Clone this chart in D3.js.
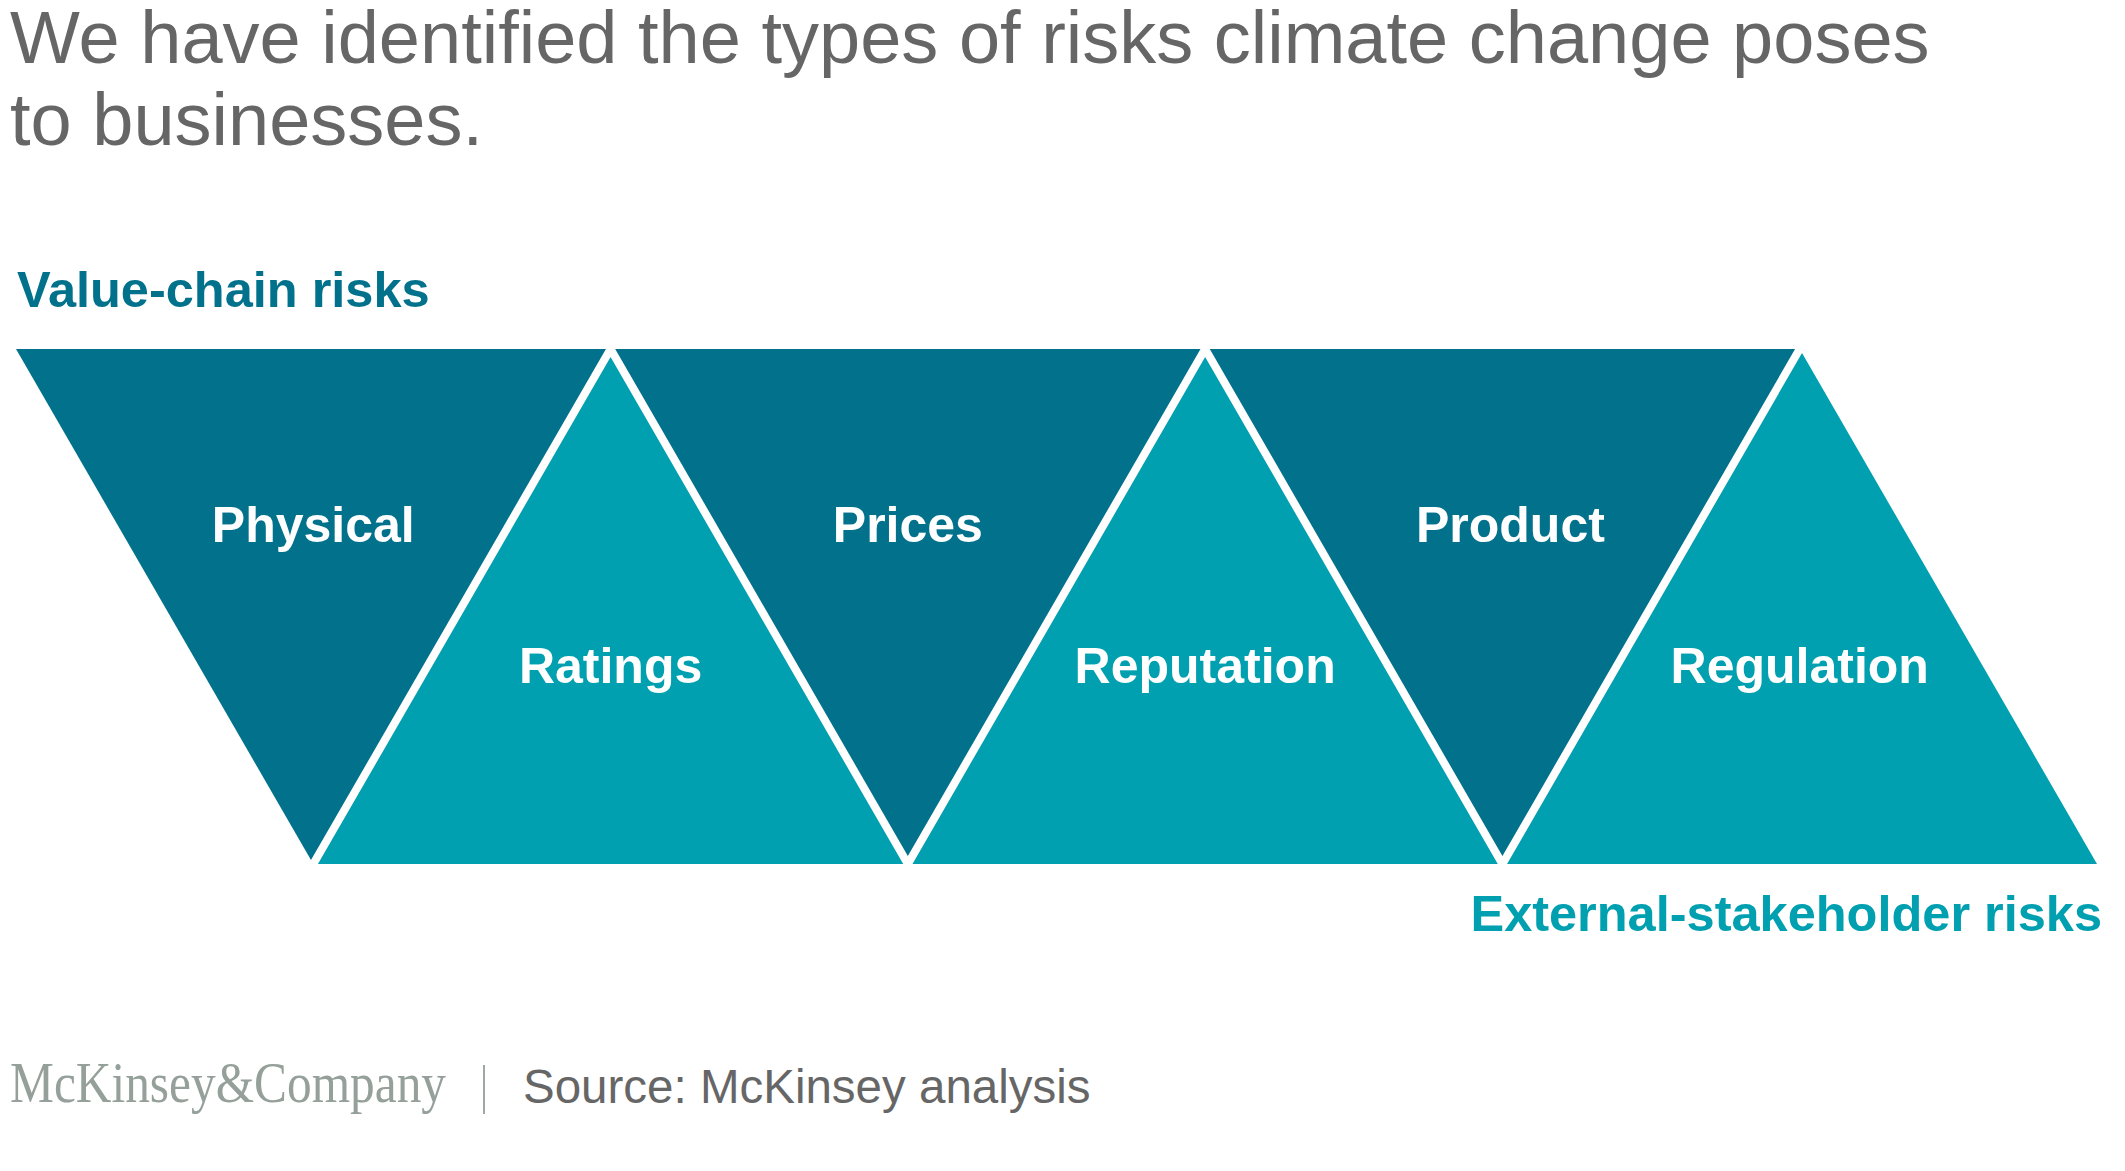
<!DOCTYPE html>
<html>
<head>
<meta charset="utf-8">
<script src="https://cdn.jsdelivr.net/npm/d3@7"></script>
<style>
  body { margin: 0; background: #fff; }
  text { font-family: "Liberation Sans", Arial, Helvetica, sans-serif; }
</style>
</head>
<body>
<svg id="chart" width="2125" height="1171"></svg>
<script>
// risk types, left to right along the strip
const risks = ["Physical", "Ratings", "Prices", "Reputation", "Product", "Regulation"];
// which group each risk belongs to
const groups = ["value", "external", "value", "external", "value", "external"];
const groupNames = { value: "Value-chain risks", external: "External-stakeholder risks" };
const titleLines = ["We have identified the types of risks climate change poses", "to businesses."];
const source = "Source: McKinsey analysis";

const darkTeal = "#02728c";
const lightTeal = "#00a0b0";

const svg = d3.select("#chart");

// title
svg.selectAll(".title")
    .data(titleLines).enter()
    .append("text")
    .attr("class", "title")
    .attr("x", 10)
    .attr("y", (d, i) => 63 + i * 82)
    .attr("font-size", "74px")
    .attr("fill", "#666")
    .text(d => d);

// x in half-triangle units, y from top edge (0) to base (1)
const x = d3.scaleLinear().domain([0, risks.length + 1]).range([16, 2097]);
const y = d3.scaleLinear().domain([0, 1]).range([349, 864]);

function trianglePoints(i) {
    let pts;
    if (groups[i] === "value") {
        // pointing down
        pts = [[i, 0], [i + 2, 0], [i + 1, 1]];
    } else {
        // pointing up
        pts = [[i + 1, 0], [i, 1], [i + 2, 1]];
    }
    return pts.map(p => [x(p[0]), y(p[1])]);
}

const line = d3.line();

svg.selectAll(".tri")
    .data(risks).enter()
    .append("path")
    .attr("class", "tri")
    .attr("d", (d, i) => line(trianglePoints(i)) + "Z")
    .attr("fill", (d, i) => groups[i] === "value" ? darkTeal : lightTeal);

// white separators along the shared edges
let zig = d3.range(1, risks.length + 1).map(k => [x(k), y(k % 2)]);
svg.append("path")
    .attr("d", line(zig))
    .attr("fill", "none")
    .attr("stroke", "#fff")
    .attr("stroke-width", 8)
    .attr("stroke-linejoin", "miter")
    .attr("stroke-miterlimit", 10);

// labels inside triangles
svg.selectAll(".lbl")
    .data(risks).enter()
    .append("text")
    .attr("class", "lbl")
    .attr("x", (d, i) => x(i + 1) + (d === "Product" ? 8 : 0))
    .attr("y", (d, i) => groups[i] === "value" ? y(0.375) : y(0.649))
    .attr("text-anchor", "middle")
    .attr("font-size", "50px")
    .attr("font-weight", "bold")
    .attr("fill", "#fff")
    .text(d => d);

// group labels
svg.append("text")
    .attr("x", 17)
    .attr("y", 307)
    .attr("font-size", "50.5px")
    .attr("font-weight", "bold")
    .attr("fill", darkTeal)
    .text(groupNames.value);

svg.append("text")
    .attr("x", 2102)
    .attr("y", 931)
    .attr("text-anchor", "end")
    .attr("font-size", "50.5px")
    .attr("font-weight", "bold")
    .attr("fill", lightTeal)
    .text(groupNames.external);

// footer
svg.append("text")
    .attr("x", 10)
    .attr("y", 1102)
    .style("font-family", "'Liberation Serif', 'Times New Roman', serif")
    .attr("font-size", "58px")
    .attr("textLength", 436)
    .attr("lengthAdjust", "spacingAndGlyphs")
    .attr("fill", "#95a09a")
    .text("McKinsey&Company");

svg.append("line")
    .attr("x1", 484).attr("x2", 484)
    .attr("y1", 1065).attr("y2", 1114)
    .attr("stroke", "#a0a8a4")
    .attr("stroke-width", 2);

svg.append("text")
    .attr("x", 523)
    .attr("y", 1103)
    .attr("font-size", "47.5px")
    .attr("fill", "#666")
    .text(source);
</script>
</body>
</html>
